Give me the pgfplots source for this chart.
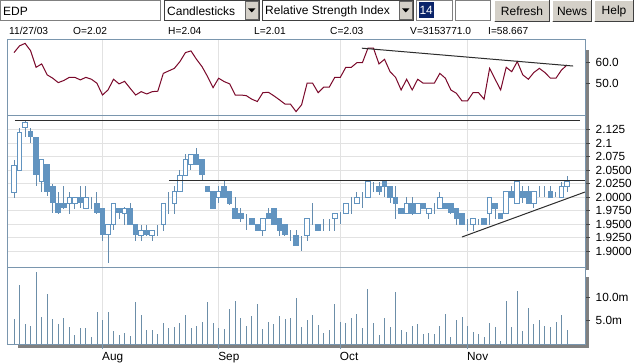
\documentclass[border=0pt]{standalone}
\usepackage{fontspec}
\setmainfont{Liberation Sans}
\usepackage{pgfplots}
\usepackage{pgfplotstable}
\pgfplotsset{compat=1.18}
\definecolor{framec}{RGB}{122,150,174}
\definecolor{gridc}{RGB}{226,226,226}
\definecolor{cblue}{RGB}{98,148,192}
\definecolor{cwick}{RGB}{100,140,175}
\definecolor{volc}{RGB}{108,142,168}
\definecolor{rsic}{RGB}{122,8,42}
\definecolor{trendc}{RGB}{45,45,45}
\definecolor{shadowc}{RGB}{128,128,128}
\definecolor{tickc}{RGB}{70,70,70}
\definecolor{btnc}{RGB}{212,208,200}
\definecolor{navyc}{RGB}{10,36,106}

\pgfplotstableread{
i O H L C V R
0 2.009 2.069 1.998 2.059 5.4 64.6
1 2.050 2.129 2.050 2.120 12.6 67.8
2 2.129 2.141 2.111 2.139 4.3 69.0
3 2.121 2.128 2.100 2.112 3.9 65.5
4 2.111 2.111 2.020 2.042 15.4 57.6
5 2.029 2.070 2.010 2.070 5.8 59.2
6 2.060 2.060 2.003 2.011 10.7 54.0
7 2.020 2.024 1.971 1.990 5.4 52.4
8 1.989 2.010 1.969 1.972 4.3 50.3
9 1.988 2.020 1.979 1.981 5.6 51.3
10 1.989 2.010 1.969 2.000 3.7 52.8
11 1.989 2.000 1.979 2.000 2.0 52.8
12 2.000 2.020 1.980 1.990 3.5 51.6
13 1.979 2.020 1.979 2.000 3.5 52.8
14 1.989 2.000 1.979 1.989 1.6 51.9
15 1.989 2.010 1.969 1.972 6.9 50.0
16 1.980 1.980 1.918 1.931 5.2 44.4
17 1.931 1.951 1.878 1.949 6.9 46.8
18 1.949 1.989 1.939 1.989 2.9 51.9
19 1.980 1.980 1.960 1.972 2.0 49.7
20 1.969 1.982 1.949 1.980 2.5 50.9
21 1.980 1.989 1.950 1.950 1.8 47.6
22 1.950 1.950 1.918 1.931 9.0 44.4
23 1.929 1.949 1.918 1.939 6.3 46.0
24 1.939 1.949 1.929 1.931 3.1 44.9
25 1.929 1.939 1.918 1.939 3.1 46.0
26 1.937 1.949 1.929 1.937 2.3 46.2
27 1.949 1.989 1.937 1.989 4.6 54.7
28 2.000 2.010 1.969 2.000 3.5 55.9
29 1.989 2.020 1.969 2.010 3.7 57.1
30 2.010 2.050 2.010 2.040 4.6 60.3
31 2.040 2.080 2.040 2.070 6.3 64.6
32 2.060 2.080 2.050 2.080 3.5 65.4
33 2.080 2.091 2.060 2.060 3.9 61.4
34 2.070 2.070 2.031 2.042 4.8 57.9
35 2.020 2.020 2.010 2.010 9.0 53.2
36 2.010 2.010 1.979 1.980 4.6 47.9
37 2.000 2.020 1.989 2.010 3.5 52.4
38 2.020 2.031 2.000 2.000 3.3 50.8
39 2.010 2.010 1.985 1.989 7.5 49.7
40 1.980 2.000 1.960 1.960 9.2 44.4
41 1.970 1.980 1.955 1.960 5.6 44.4
42 1.960 1.969 1.939 1.960 3.9 44.1
43 1.960 1.960 1.950 1.950 6.1 42.4
44 1.950 1.950 1.937 1.939 8.6 41.3
45 1.939 1.960 1.929 1.960 3.3 45.5
46 1.969 1.980 1.960 1.960 4.8 45.7
47 1.980 1.980 1.950 1.950 4.4 44.0
48 1.960 1.960 1.929 1.939 6.1 42.1
49 1.949 1.949 1.929 1.931 5.4 40.1
50 1.929 1.939 1.918 1.929 5.6 40.0
51 1.929 1.939 1.910 1.910 9.8 36.5
52 1.918 1.929 1.900 1.918 3.7 39.7
53 1.929 1.960 1.918 1.960 5.2 50.0
54 1.960 1.989 1.949 1.960 6.3 50.0
55 1.950 1.950 1.937 1.939 4.1 45.5
56 1.950 1.960 1.937 1.950 2.5 48.1
57 1.950 1.960 1.937 1.950 3.1 48.1
58 1.960 1.969 1.937 1.969 8.6 52.8
59 1.969 1.972 1.950 1.969 4.8 52.8
60 1.969 1.989 1.969 1.989 4.6 57.6
61 1.989 2.000 1.969 1.989 5.6 57.6
62 1.989 2.010 1.989 2.000 6.5 59.8
63 2.000 2.010 1.980 2.000 3.5 59.8
64 2.000 2.031 2.000 2.029 11.7 66.7
65 2.025 2.029 2.010 2.025 4.6 66.7
66 2.020 2.029 2.005 2.010 2.0 59.2
67 2.029 2.031 2.000 2.020 5.6 61.4
68 2.020 2.020 1.989 2.000 3.7 55.5
69 2.000 2.020 1.960 1.989 11.1 52.8
70 1.980 1.980 1.969 1.969 3.1 46.8
71 1.969 2.000 1.969 1.989 2.6 51.9
72 1.989 2.000 1.967 1.969 3.9 46.8
73 1.969 1.989 1.969 1.989 4.4 51.9
74 1.989 1.989 1.980 1.980 2.3 50.0
75 1.969 1.980 1.960 1.980 2.5 50.0
76 1.980 1.989 1.969 1.980 2.3 50.0
77 1.980 2.010 1.980 2.000 3.9 54.7
78 1.989 1.989 1.980 1.980 6.5 52.4
79 1.989 1.989 1.969 1.972 1.6 46.8
80 1.980 1.980 1.949 1.960 5.2 45.2
81 1.969 1.969 1.949 1.950 5.8 41.6
82 1.949 1.960 1.937 1.949 3.9 41.6
83 1.949 1.960 1.937 1.960 2.6 45.5
84 1.960 1.960 1.949 1.960 2.3 45.5
85 1.960 1.960 1.949 1.949 1.6 42.4
86 1.969 2.000 1.949 2.000 4.6 57.1
87 1.989 1.989 1.960 1.980 3.7 51.9
88 1.969 1.969 1.960 1.960 0.8 46.8
89 1.969 2.010 1.969 2.010 9.2 57.6
90 2.010 2.020 2.000 2.000 3.7 55.5
91 1.989 2.031 1.989 2.029 11.3 60.3
92 2.010 2.020 1.989 2.000 2.9 54.0
93 2.010 2.020 1.989 1.989 7.8 51.9
94 1.989 2.010 1.980 2.010 4.4 55.1
95 2.020 2.020 2.000 2.020 5.2 57.1
96 2.010 2.020 2.000 2.010 3.9 55.1
97 2.010 2.020 2.000 2.000 3.7 52.4
98 2.000 2.010 2.000 2.000 4.8 52.4
99 2.000 2.029 1.9985 2.020 6.3 56.3
100 2.020 2.040 2.010 2.030 3.15 58.667
}\data

\pgfplotsset{
  panel/.style={scale only axis, width=577pt, xmin=-1.085, xmax=103.25, anchor=south west,
    axis line style={framec, line width=1pt},
    xtick={16,37,59,82}, xticklabels={}, xmajorgrids, grid style={gridc, line width=1pt},
    yticklabel pos=right, ytick pos=right, tick align=outside, major tick length=5pt,
    ytick style={tickc, line width=1pt},
    yticklabel style={anchor=west, inner sep=0pt, xshift=5.5pt, font=\fontsize{11.8}{12}\selectfont},
    /pgf/number format/assume math mode=true},
  ovl/.style={scale only axis, width=577pt, xmin=-1.085, xmax=103.25, anchor=south west, hide axis},
  trend/.style={trendc, line width=1pt},
}

\begin{document}
\begin{tikzpicture}[x=1pt,y=1pt]
\path[use as bounding box] (0pt,0pt) rectangle (635pt,364pt);
\begin{scope}
\clip (0pt,0pt) rectangle (635pt,364pt);
\fill[white] (0,0) rectangle (635,364);

% ---- toolbar ----
\draw[gray, line width=1pt] (0.5,343.5) rectangle (160,363.5);
\node[anchor=west, inner sep=0pt, font=\fontsize{12}{12}\selectfont] at (3,353) {EDP};
\draw[black!75, fill=white, line width=1pt] (164.5,343.5) rectangle (259.5,363.5);
\fill[btnc] (245,344.5) rectangle (258.5,362.5);
\draw[black!60] (245,344.5) rectangle (258.5,362.5);
\fill (248.2,355.5) -- (255.3,355.5) -- (251.75,351.5) -- cycle;
\node[anchor=west, inner sep=0pt, font=\fontsize{12}{12}\selectfont] at (167,353) {Candlesticks};
\draw[black!75, fill=white, line width=1pt] (262.5,343.5) rectangle (413.5,363.5);
\fill[btnc] (399,344.5) rectangle (412.5,362.5);
\draw[black!60] (399,344.5) rectangle (412.5,362.5);
\fill (402.2,355.5) -- (409.3,355.5) -- (405.75,351.5) -- cycle;
\node[anchor=west, inner sep=0pt, font=\fontsize{12}{12}\selectfont] at (265,353) {Relative Strength Index};
\draw[gray, line width=1pt] (416.5,343.5) rectangle (452.5,363.5);
\fill[navyc] (419,345.5) rectangle (433.5,361.5);
\node[white, inner sep=0pt, font=\fontsize{12}{12}\selectfont] at (426.2,353.5) {14};
\draw[gray, line width=1pt] (455.5,343.5) rectangle (490.5,363.5);
\foreach \xa/\xb/\t in {494/550/Refresh, 552/592/News, 594/634/Help}{
  \fill[btnc] (\xa,342) rectangle (\xb,364);
  \draw[white, line width=1pt] (\xa+0.5,342.5) -- (\xa+0.5,363.5) -- (\xb-0.5,363.5);
  \draw[gray!50!black, line width=1pt] (\xa+0.5,342.5) -- (\xb-0.5,342.5) -- (\xb-0.5,363.5);
  \node[inner sep=0pt, font=\fontsize{12}{12}\selectfont] at ({(\xa+\xb)/2},353) {\t};
}
% ---- info line ----
\foreach \xx/\t in {9/11\slash 27\slash 03, 73/O=2.02, 168/H=2.04, 254/L=2.01, 330/C=2.03, 410/V=3153771.0, 488/I=58.667}{
  \node[anchor=west, inner sep=0pt, font=\fontsize{10.2}{11}\selectfont] at (\xx,333) {\t};
}

% ---- shadows ----
\fill[shadowc] (585.5,94) rectangle (588.5,314);
\fill[shadowc] (585.5,16) rectangle (588.5,87);
\fill[shadowc] (18,16) rectangle (588.5,19);

% ---- RSI panel ----
\begin{axis}[panel, at={(8pt,248pt)}, height=76pt, ymin=34.4, ymax=70.6,
  ytick={50,60}, yticklabels={50.0,60.0}, xtick style={draw=none}]
\addplot[rsic, line width=1pt, mark=none] table[x=i, y=R] {\data};
\addplot[trend, mark=none] coordinates {(62.9,66.7) (101.1,58.2)};
\end{axis}

% ---- candle panel: grid and wicks ----
\begin{axis}[panel, at={(8pt,96pt)}, height=152pt, ymin=1.8689, ymax=2.1504,
  ytick={1.9,1.925,1.95,1.975,2.0,2.025,2.05,2.075,2.1,2.125},
  yticklabels={1.9000,1.9250,1.9500,1.9750,2.0000,2.0250,2.0500,2.075,2.1,2.125},
  ymajorgrids, xtick style={draw=none}]
\addplot[draw=none, no markers, error bars/.cd, y dir=both, y explicit, error mark=none,
  error bar style={line width=1pt, draw=cwick, solid}]
  table[x=i, y expr={(\thisrow{H}+\thisrow{L})/2}, y error expr={(\thisrow{H}-\thisrow{L})/2}] {\data};
\end{axis}
% ---- candle bodies ----
\begin{axis}[ovl, at={(8pt,96pt)}, height=152pt, ymin=1.8689, ymax=2.1504, ybar stacked, bar width=4.6pt]
\addplot[draw=none, fill=none] table[x=i, y expr={min(\thisrow{O},\thisrow{C})}] {\data};
\addplot[fill=cblue, draw=cblue, line width=1pt] table[x=i, y expr={max(\thisrow{O}-\thisrow{C},0)}] {\data};
\addplot[fill=white, draw=cblue, line width=1pt] table[x=i, y expr={max(\thisrow{C}-\thisrow{O},0)}] {\data};
\end{axis}
% ---- trend lines ----
\begin{axis}[ovl, at={(8pt,96pt)}, height=152pt, ymin=1.8689, ymax=2.1504]
\addplot[trend, mark=none] coordinates {(0.18,2.1424) (102.35,2.1424)};
\addplot[trend, mark=none] coordinates {(28,2.0305) (103.25,2.0305)};
\addplot[trend, mark=none] coordinates {(81,1.9263) (103.25,2.0096)};
\end{axis}

% ---- volume panel ----
\begin{axis}[panel, at={(8pt,19.5pt)}, height=76.5pt, ymin=0, ymax=16.14,
  ytick={5,10}, yticklabels={5.0m,10.0m},
  xtick pos=left, xticklabels={Aug,Sep,Oct,Nov},
  xtick style={framec, line width=1pt},
  xticklabel style={anchor=north west, inner sep=0pt, xshift=-0.5pt, yshift=-3pt, font=\fontsize{11.8}{12}\selectfont}]
\addplot[ycomb, volc, line width=0.9pt, mark=none] table[x=i, y=V] {\data};
\end{axis}
\end{scope}
\end{tikzpicture}
\end{document}
